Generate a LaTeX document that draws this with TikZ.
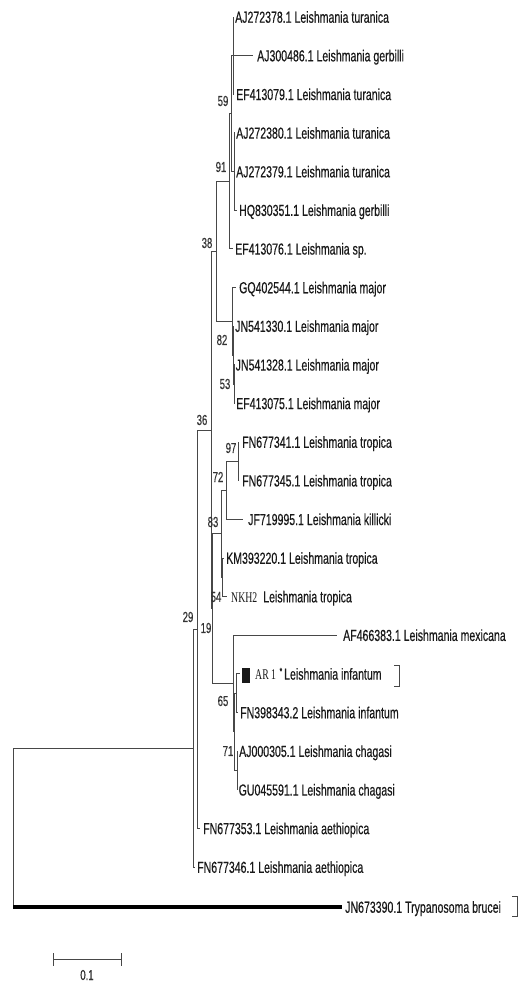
\documentclass[tikz,border=0pt]{standalone}
\usepackage{fontspec}
\setmainfont{Liberation Sans}[FakeStretch=0.66,FakeBold=0.35]
\newfontfamily\tmsf{Liberation Serif}[FakeStretch=0.66]
\begin{document}
\begin{tikzpicture}[x=1pt,y=-1pt,
  br/.style={draw=black!72, line width=0.9pt},
  outg/.style={draw=black, line width=4.5pt},
  leaf/.style={anchor=west, inner sep=0pt, font=\fontsize{16}{17}\selectfont, text=black!90, text height=11.5pt, text depth=0pt},
  bs/.style={inner sep=0pt, font=\fontsize{14.5}{15}\selectfont, text=black!80}]
\fill[white] (0,0) rectangle (520,984);
\useasboundingbox (0,0) rectangle (520,984);
% internal nodes
\coordinate (T) at (233,55.6);
\coordinate (U) at (234,171.6);
\coordinate (n59) at (231,113.6);
\coordinate (n91) at (229,181.2);
\coordinate (M) at (232,321.3);
\coordinate (n82) at (233,355.1);
\coordinate (n53) at (234,384.1);
\coordinate (n38) at (216,251.3);
\coordinate (n97) at (238,461.3);
\coordinate (n72) at (226,490.3);
\coordinate (n54) at (222,577.3);
\coordinate (n83) at (221,533.8);
\coordinate (n65) at (236,693.2);
\coordinate (n71) at (237,770.5);
\coordinate (Z) at (234,731.9);
\coordinate (X) at (233,683.5);
\coordinate (n19) at (212,608.7);
\coordinate (n36) at (211,430);
\coordinate (n29) at (197,629.2);
\coordinate (I) at (193,748.2);
\coordinate (R) at (13,827.6);
% leaf tips
\coordinate (t1) at (234,17);
\coordinate (t2) at (253,55.6);
\coordinate (t3) at (234,94.3);
\coordinate (t4) at (235,132.9);
\coordinate (t5) at (235,171.6);
\coordinate (t6) at (237,210.2);
\coordinate (t7) at (233,248.8);
\coordinate (t8) at (236,287.5);
\coordinate (t9) at (234,326.1);
\coordinate (t10) at (235,364.8);
\coordinate (t11) at (235,403.4);
\coordinate (t12) at (239,442.0);
\coordinate (t13) at (239,480.7);
\coordinate (t14) at (243,519.3);
\coordinate (t15) at (224,558.0);
\coordinate (t16) at (227,596.6);
\coordinate (t17) at (337,635.2);
\coordinate (t18) at (240,673.9);
\coordinate (t19) at (238,712.5);
\coordinate (t20) at (238,751.2);
\coordinate (t21) at (238,789.8);
\coordinate (t22) at (200,828.4);
\coordinate (t23) at (195,867.1);
\coordinate (t24) at (342,907);
% leaf labels
\node[leaf] (l1) at (235,17) {AJ272378.1 Leishmania turanica};
\node[leaf] (l2) at (257,55.6) {AJ300486.1 Leishmania gerbilli};
\node[leaf] (l3) at (236,94.3) {EF413079.1 Leishmania turanica};
\node[leaf] (l4) at (236,132.9) {AJ272380.1 Leishmania turanica};
\node[leaf] (l5) at (236,171.6) {AJ272379.1 Leishmania turanica};
\node[leaf] (l6) at (239,210.2) {HQ830351.1 Leishmania gerbilli};
\node[leaf] (l7) at (235,248.8) {EF413076.1 Leishmania sp.};
\node[leaf] (l8) at (239,287.5) {GQ402544.1 Leishmania major};
\node[leaf] (l9) at (235,326.1) {JN541330.1 Leishmania major};
\node[leaf] (l10) at (235.5,364.8) {JN541328.1 Leishmania major};
\node[leaf] (l11) at (236,403.4) {EF413075.1 Leishmania major};
\node[leaf] (l12) at (242,442.0) {FN677341.1 Leishmania tropica};
\node[leaf] (l13) at (242,480.7) {FN677345.1 Leishmania tropica};
\node[leaf] (l14) at (248,519.3) {JF719995.1 Leishmania killicki};
\node[leaf] (l15) at (226,558.0) {KM393220.1 Leishmania tropica};
\node[leaf] (l16) at (231,596.6) {{\tmsf\fontsize{14.8}{15}\selectfont NKH2}\hspace{6pt}Leishmania tropica};
\node[leaf] (l17) at (343,635.2) {AF466383.1 Leishmania mexicana};
\node[leaf] (l18) at (242,673.9) {\rule[-3pt]{8pt}{15pt}\hspace{5pt}{\tmsf\fontsize{14.8}{15}\selectfont AR 1}\hspace{3.5pt}\raisebox{5pt}{\fontsize{10}{10}\selectfont *}\hspace{2pt}Leishmania infantum};
\node[leaf] (l19) at (240,712.5) {FN398343.2 Leishmania infantum};
\node[leaf] (l20) at (239,751.2) {AJ000305.1 Leishmania chagasi};
\node[leaf] (l21) at (238.5,789.8) {GU045591.1 Leishmania chagasi};
\node[leaf] (l22) at (203,828.4) {FN677353.1 Leishmania aethiopica};
\node[leaf] (l23) at (197,867.1) {FN677346.1 Leishmania aethiopica};
\node[leaf] (l24) at (345,907) {JN673390.1 Trypanosoma brucei};
% branches
\foreach \p/\c in {T/t1,T/t2,T/t3,U/t4,U/t5,U/t6,n59/T,n59/U,n91/n59,n91/t7,
  n53/t10,n53/t11,n82/t9,n82/n53,M/t8,M/n82,n38/n91,n38/M,
  n97/t12,n97/t13,n72/n97,n72/t14,n54/t15,n54/t16,n83/n72,n83/n54,
  n65/t18,n65/t19,n71/t20,n71/t21,Z/n65,Z/n71,X/t17,X/Z,
  n19/n83,n19/X,n36/n38,n36/n19,n29/n36,n29/t22,I/n29,I/t23,R/I}
  \draw[br] (\p) |- (\c);
\draw[br] (R) -- (R |- t24);
\draw[outg] (R |- t24) -- (t24);
% brackets
\draw[br] (394,665) -- (399,665) -- (399,686) -- (394,686);
\draw[br] (512,896) -- (517,896) -- (517,916) -- (512,916);
% bootstrap values
\node[bs] (b59) at (223,101) {59};
\node[bs] (b91) at (221,167) {91};
\node[bs] (b38) at (207,243) {38};
\node[bs] (b82) at (222,340) {82};
\node[bs] (b53) at (225,384) {53};
\node[bs] (b36) at (202,420) {36};
\node[bs] (b97) at (231,448) {97};
\node[bs] (b72) at (218,477) {72};
\node[bs] (b83) at (213,522) {83};
\node[bs] (b54) at (216,597) {54};
\node[bs] (b19) at (206,628) {19};
\node[bs] (b29) at (188,617) {29};
\node[bs] (b65) at (223,701) {65};
\node[bs] (b71) at (228,751) {71};
% scale bar
\coordinate (s1) at (53,959);
\coordinate (s2) at (121,959);
\draw[br] (s1) -- (s2);
\draw[br] ([yshift=6pt]s1) -- ([yshift=-7pt]s1);
\draw[br] ([yshift=6pt]s2) -- ([yshift=-7pt]s2);
\node[bs] (sl) at (87,975) {0.1};
\end{tikzpicture}
\end{document}
